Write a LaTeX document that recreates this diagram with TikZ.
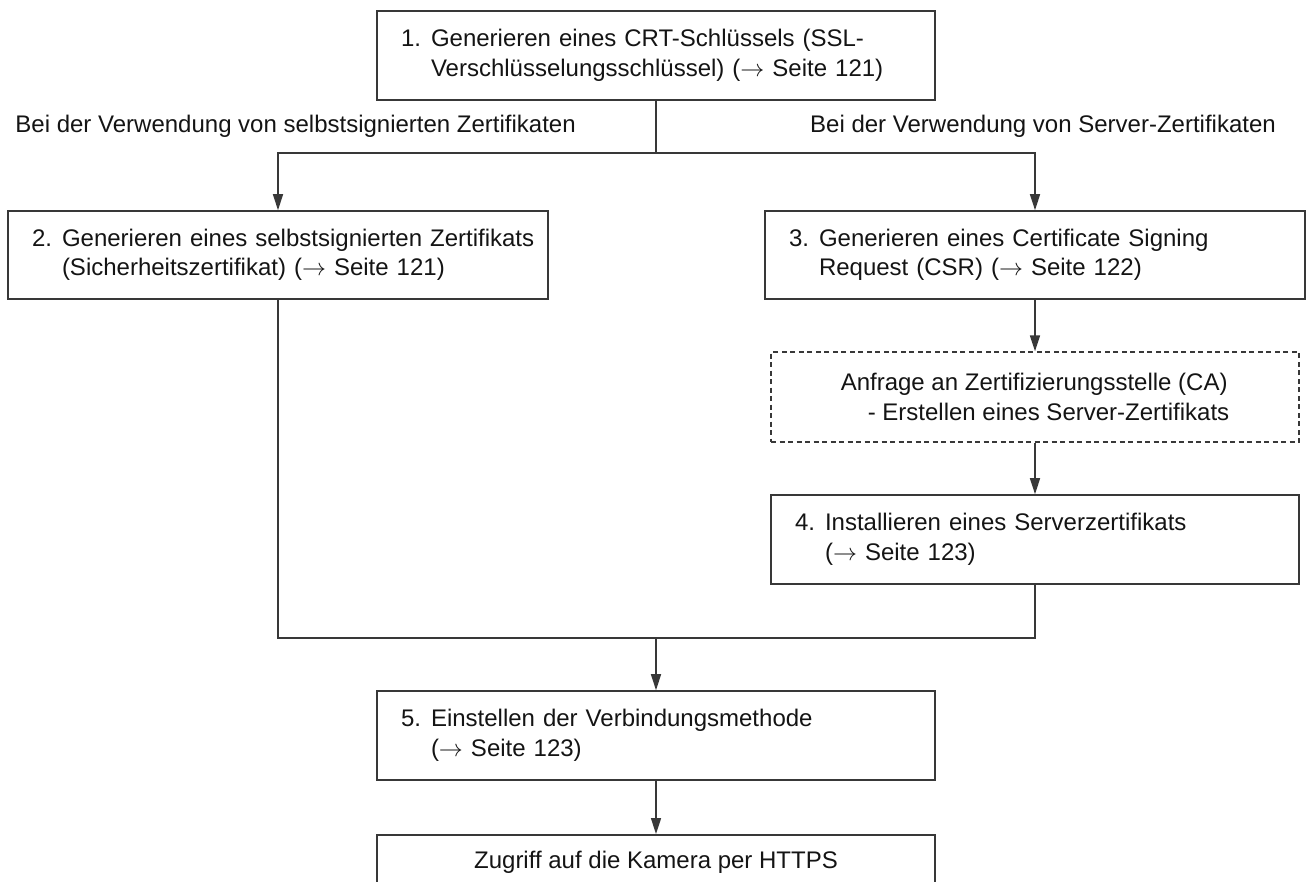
\documentclass[tikz,border=0pt]{standalone}
\usepackage{fix-cm}
\usepackage{fontspec}
\setmainfont{Liberation Sans}
\usetikzlibrary{arrows.meta}

% two-line step text with a hanging number
\newcommand{\twoline}[3]{\makebox[30pt][l]{#1}\mbox{#2}\\\hspace*{30pt}\mbox{#3}}
% page reference arrow
\newcommand{\toarrow}{\ensuremath{\rightarrow}}

\begin{document}
\begin{tikzpicture}[x=1pt,y=-1pt,
  every node/.style={font=\fontsize{24}{29.5}\selectfont, text=black!92},
  stepbox/.style={draw=black!78, line width=1.6pt, inner xsep=24pt, inner ysep=0pt,
                  align=left},
  casebox/.style={draw=black!78, line width=1.3pt, dash pattern=on 5pt off 3.5pt,
                  inner sep=0pt, align=left},
  caption/.style={font=\fontsize{24}{29}\selectfont, inner sep=0pt},
  link/.style={draw=black!78, line width=1.6pt},
  flow/.style={link, -{Triangle[length=16pt,width=10pt]}}]

\useasboundingbox (0,0) rectangle (1306,881);
\clip (0,0) rectangle (1306,881);

% step boxes
\node[stepbox, text width=510pt, minimum height=89pt] (b1) at (656,55.5)
  {\twoline{1.}{Generieren eines CRT-Schlüssels (SSL-}{Verschlüsselungsschlüssel) (\toarrow\ Seite 121)}};
\node[stepbox, text width=492pt, minimum height=88pt] (b2) at (278,255)
  {\twoline{2.}{Generieren eines selbstsignierten Zertifikats}{(Sicherheitszertifikat) (\toarrow\ Seite 121)}};
\node[stepbox, text width=492pt, minimum height=88pt] (b3) at (1035,255)
  {\twoline{3.}{Generieren eines Certificate Signing}{Request (CSR) (\toarrow\ Seite 122)}};
\node[casebox, minimum width=528pt, minimum height=90pt] (ca) at (1035,397)
  {Anfrage an Zertifizierungsstelle (CA)\\\hspace*{27pt}- Erstellen eines Server-Zertifikats};
\node[stepbox, text width=480pt, minimum height=89pt] (b4) at (1035,539.5)
  {\twoline{4.}{Installieren eines Serverzertifikats}{(\toarrow\ Seite 123)}};
\node[stepbox, text width=510pt, minimum height=89pt] (b5) at (656,735.5)
  {\twoline{5.}{Einstellen der Verbindungsmethode}{(\toarrow\ Seite 123)}};
\node[stepbox, minimum width=558pt, anchor=north, text height=34pt, text depth=55pt,
      align=center] (b6) at (656,834) {Zugriff auf die Kamera per HTTPS};

% branch captions
\node[caption, anchor=base east] (lab1) at (576,132)
  {Bei der Verwendung von selbstsignierten Zertifikaten};
\node[caption, anchor=base west] (lab2) at (810,132)
  {Bei der Verwendung von Server-Zertifikaten};

% junctions
\coordinate (split) at (656,153);
\coordinate (merge) at (656,638);

% connectors
\draw[link] (b1.south) -- (split);
\draw[flow] (split) -| (b2.north);
\draw[flow] (split) -| (b3.north);
\draw[flow] (b3.south) -- (ca.north);
\draw[flow] (ca.south) -- (b4.north);
\draw[link] (b2.south) |- (merge);
\draw[link] (b4.south) |- (merge);
\draw[flow] (merge) -- (b5.north);
\draw[flow] (b5.south) -- (b6.north);
\end{tikzpicture}
\end{document}
